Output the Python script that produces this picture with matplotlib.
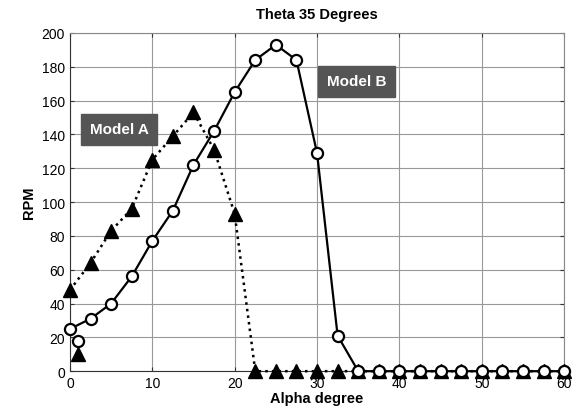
import matplotlib.pyplot as plt

plt.rcParams['font.family'] = ['Liberation Sans', 'DejaVu Sans']

# Model A (triangles, dotted line)
alpha_a = [0, 2.5, 5, 7.5, 10, 12.5, 15, 17.5, 20, 22.5, 25, 27.5, 30, 32.5,
           35, 37.5, 40, 42.5, 45, 47.5, 50, 52.5, 55, 57.5, 60]
rpm_a = [48, 64, 83, 96, 125, 139, 153, 131, 93, 0, 0, 0, 0, 0,
         0, 0, 0, 0, 0, 0, 0, 0, 0, 0, 0]

# Model B (circles, solid line)
alpha_b = [0, 2.5, 5, 7.5, 10, 12.5, 15, 17.5, 20, 22.5, 25, 27.5, 30, 32.5,
           35, 37.5, 40, 42.5, 45, 47.5, 50, 52.5, 55, 57.5, 60]
rpm_b = [25, 31, 40, 56, 77, 95, 122, 142, 165, 184, 193, 184, 129, 21,
         0, 0, 0, 0, 0, 0, 0, 0, 0, 0, 0]

# stray single points at alpha = 1
extra_x = [1]
extra_a = [10]
extra_b = [18]

fig = plt.figure(figsize=(5.78, 4.14), dpi=100)
ax = fig.add_axes([0.121, 0.101, 0.855, 0.817])

ax.plot(alpha_a, rpm_a, color='black', linestyle=':', linewidth=1.8,
        marker='^', markersize=10, markerfacecolor='black', zorder=3,
        clip_on=False)
ax.plot(extra_x, extra_a, linestyle='none', marker='^', markersize=10,
        color='black', zorder=3)
ax.plot(alpha_b, rpm_b, color='black', linestyle='-', linewidth=1.6,
        marker='o', markersize=8, markerfacecolor='white',
        markeredgewidth=1.6, zorder=4, clip_on=False)
ax.plot(extra_x, extra_b, linestyle='none', marker='o', markersize=8,
        markerfacecolor='white', markeredgecolor='black',
        markeredgewidth=1.6, zorder=4)

ax.set_xlim(0, 60)
ax.set_ylim(0, 200)
ax.set_xticks(range(0, 61, 10))
ax.set_yticks(range(0, 201, 20))
ax.grid(True, color='#999999', linewidth=0.8)
ax.tick_params(direction='in', labelsize=10, top=True, right=True,
               length=3, color='#333333')
for s in ax.spines.values():
    s.set_color('#888888')
    s.set_linewidth(0.8)
ax.spines['left'].set_color('#333333')
ax.spines['bottom'].set_color('#333333')

ax.set_title('Theta 35 Degrees', fontsize=10.5, fontweight='bold', pad=11)
ax.set_xlabel('Alpha degree', fontsize=10.5, fontweight='bold', labelpad=1)
ax.set_ylabel('RPM', fontsize=10.5, fontweight='bold', labelpad=4)

box = dict(boxstyle='square,pad=0.55', facecolor='#555555', edgecolor='#555555')
ax.text(5.95, 143, 'Model A', color='white', fontsize=11, fontweight='bold',
        ha='center', va='center', bbox=box, zorder=5)
ax.text(34.8, 171.5, 'Model B', color='white', fontsize=11, fontweight='bold',
        ha='center', va='center', bbox=box, zorder=5)

fig.savefig('out.png', dpi=100)
